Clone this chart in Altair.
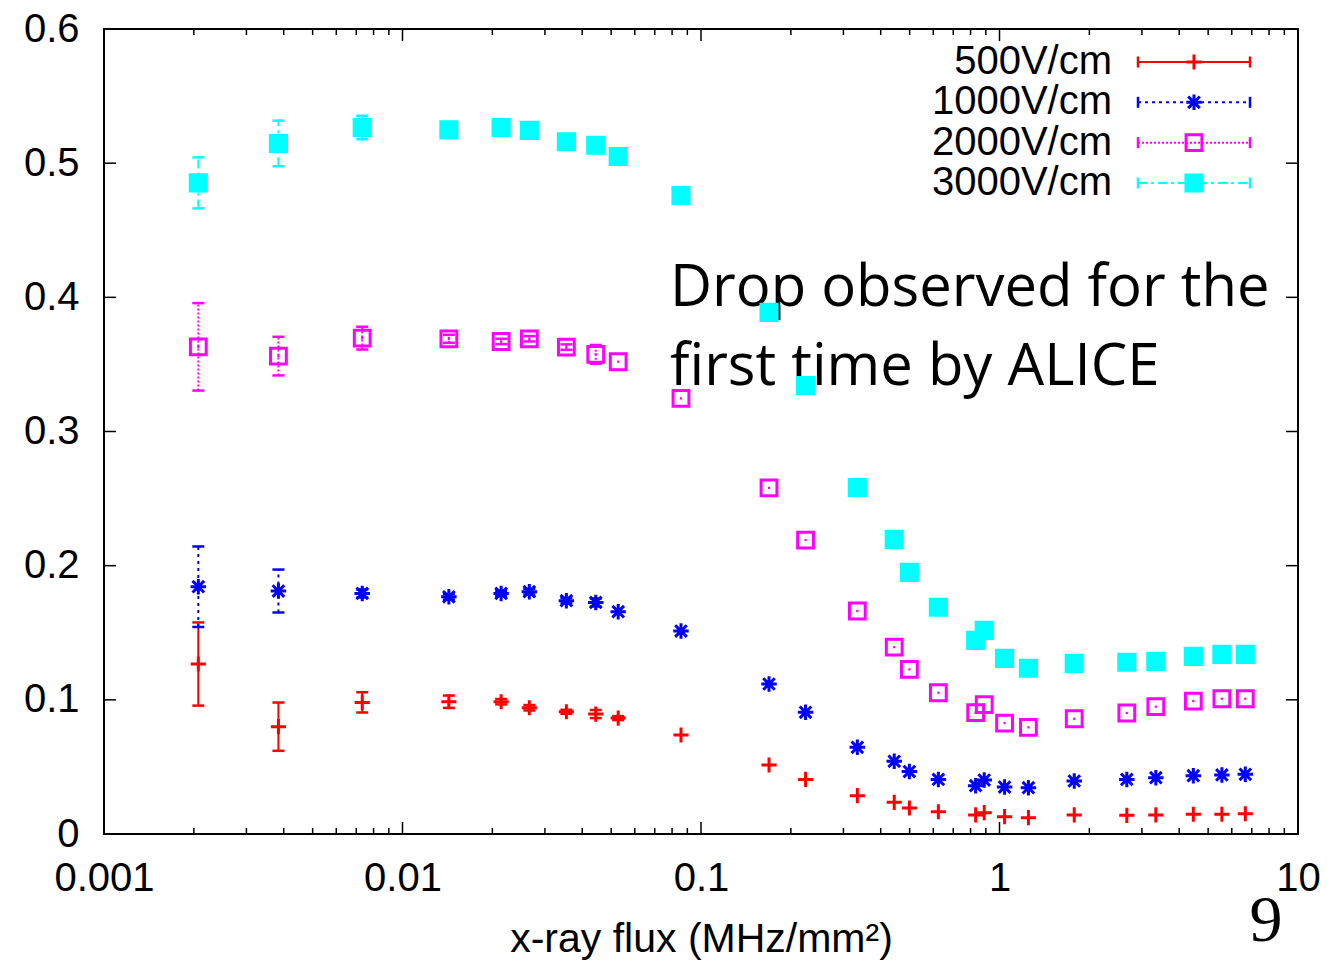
import altair as alt
import pandas as pd

# ---------------- data ----------------
flux = [0.00207, 0.00384, 0.00733, 0.0143, 0.0214, 0.0266, 0.0354, 0.0444, 0.0528,
        0.0857, 0.169, 0.224, 0.334, 0.444, 0.499, 0.624, 0.832, 0.889, 1.04, 1.25,
        1.78, 2.67, 3.34, 4.46, 5.56, 6.66]

series_names = ["500V/cm", "1000V/cm", "2000V/cm", "3000V/cm"]
legend_rows = [0, 1, 2, 3]

gain_500 = [0.1267, 0.0800, 0.0981, 0.0986, 0.0986, 0.0941, 0.0911, 0.0894, 0.0864,
            0.0738, 0.0514, 0.0407, 0.0286, 0.0236, 0.0194, 0.0166, 0.0142, 0.0159,
            0.0129, 0.0122, 0.0142, 0.0139, 0.0142, 0.0147, 0.0147, 0.0151]
err_500 = [0.031, 0.018, 0.0075, 0.0046, 0.002, 0.002, 0.0015, 0.003, 0.0015,
           0, 0, 0, 0, 0, 0, 0, 0, 0, 0, 0, 0, 0, 0, 0, 0, 0]

gain_1000 = [0.1843, 0.1811, 0.1793, 0.1768, 0.1793, 0.1806, 0.1739, 0.1726, 0.1657,
             0.1513, 0.1118, 0.0907, 0.0646, 0.0542, 0.0465, 0.0407, 0.0360, 0.0402,
             0.0350, 0.0345, 0.0395, 0.0407, 0.0420, 0.0435, 0.0440, 0.0445]
err_1000 = [0.030, 0.016, 0.003, 0.002, 0.002, 0.002, 0.002, 0.003, 0,
            0, 0, 0, 0, 0, 0, 0, 0, 0, 0, 0, 0, 0, 0, 0, 0, 0]

gain_2000 = [0.3631, 0.3562, 0.3696, 0.3691, 0.3671, 0.3691, 0.3629, 0.3575, 0.3520,
             0.3247, 0.2580, 0.2191, 0.1662, 0.1393, 0.1227, 0.1053, 0.0904, 0.0964,
             0.0827, 0.0795, 0.0859, 0.0902, 0.0949, 0.0991, 0.1008, 0.1008]
err_2000 = [0.0326, 0.0144, 0.0084, 0.003, 0.002, 0.002, 0.002, 0.007, 0,
            0, 0, 0, 0, 0, 0, 0, 0, 0, 0, 0, 0, 0, 0, 0, 0, 0]

gain_3000 = [0.4853, 0.5147, 0.5266, 0.5248, 0.5266, 0.5244, 0.5160, 0.5134, 0.5050,
             0.4759, 0.3888, 0.3343, 0.2583, 0.2196, 0.1950, 0.1690, 0.1443, 0.1518,
             0.1309, 0.1235, 0.1272, 0.1280, 0.1287, 0.1324, 0.1339, 0.1339]
err_3000 = [0.019, 0.017, 0.0087, 0, 0, 0, 0, 0.002, 0,
            0, 0, 0, 0, 0, 0, 0, 0, 0, 0, 0, 0, 0, 0, 0, 0, 0]

x_major = [0.001, 0.01, 0.1, 1, 10]
x_minor = [0.002, 0.003, 0.004, 0.005, 0.006, 0.007, 0.008, 0.009,
           0.02, 0.03, 0.04, 0.05, 0.06, 0.07, 0.08, 0.09,
           0.2, 0.3, 0.4, 0.5, 0.6, 0.7, 0.8, 0.9,
           2, 3, 4, 5, 6, 7, 8, 9]
y_major = [0, 0.1, 0.2, 0.3, 0.4, 0.5, 0.6]

x_title = "x-ray flux (MHz/mm²)"
annotation_lines = ["Drop observed for the", "first time by ALICE"]
page_number = "9"

# ---------------- styles ----------------
colors = ["#ff0000", "#0000ff", "#ff00ff", "#00ffff"]
dashes = [[1, 0], [3, 4], [2, 2], [9, 4, 3, 4]]
shapes = ["M-1,0L1,0M0,-1L0,1",
          "M-1,0L1,0M0,-1L0,1M-0.75,-0.75L0.75,0.75M-0.75,0.75L0.75,-0.75",
          "M-1,-1L1,-1L1,1L-1,1Z",
          "square"]
fills = ["transparent", "transparent", "transparent", "#00ffff"]
sizes = [230, 260, 250, 150]

W, H = 1194, 805
FONT = "Liberation Sans"
FS = 40

rows = []
for name, vals, errs in zip(series_names,
                            [gain_500, gain_1000, gain_2000, gain_3000],
                            [err_500, err_1000, err_2000, err_3000]):
    for f, v, e in zip(flux, vals, errs):
        rows.append({"series": name, "flux": f, "value": v,
                     "lo": v - e, "hi": v + e, "err": e})
df = pd.DataFrame(rows)
err_df = df[df["err"] > 0]
legend_df = pd.DataFrame({"series": series_names, "row": legend_rows})

xs = alt.Scale(type="log", domain=[0.001, 10], nice=False)
ys = alt.Scale(domain=[0, 0.6], nice=False, zero=False)

xaxis = alt.Axis(values=x_major, format="~g", title=x_title, grid=False,
                 ticks=False, tickSize=0, domain=False, labelFlush=False,
                 labelOverlap=False, labelFont=FONT, labelFontSize=FS,
                 labelColor="black", labelPadding=24, titleFont=FONT,
                 titleFontSize=41, titleFontWeight="normal", titleColor="black",
                 titlePadding=21)
yaxis = alt.Axis(values=y_major, format="~g", title="", grid=False,
                 ticks=False, tickSize=0, domain=False, labelFlush=False,
                 labelOverlap=False, labelFont=FONT, labelFontSize=FS,
                 labelColor="black", labelPadding=25)

X = alt.X("flux:Q", scale=xs, axis=xaxis)
Y = alt.Y("value:Q", scale=ys, axis=yaxis)
C = alt.Color("series:N", scale=alt.Scale(domain=series_names, range=colors), legend=None)
D = alt.StrokeDash("series:N", scale=alt.Scale(domain=series_names, range=dashes), legend=None)
S = alt.Shape("series:N", scale=alt.Scale(domain=series_names, range=shapes), legend=None)
F = alt.Fill("series:N", scale=alt.Scale(domain=series_names, range=fills), legend=None)
SZ = alt.Size("series:N", scale=alt.Scale(domain=series_names, range=sizes), legend=None)

dummy = pd.DataFrame({"k": [0]})

annotation = alt.Chart(dummy).mark_text(
    text=annotation_lines, align="left", baseline="alphabetic", font="Open Sans",
    fontSize=58, lineHeight=79, color="black"
).encode(x=alt.value(566), y=alt.value(277))

page = alt.Chart(dummy).mark_text(
    text=page_number, align="center", baseline="alphabetic",
    font="Liberation Serif", fontSize=66, color="black"
).encode(x=alt.value(1162), y=alt.value(912))

xmaj = pd.DataFrame({"flux": x_major})
xmin = pd.DataFrame({"flux": x_minor})
ymaj = pd.DataFrame({"value": y_major})

tick_style = dict(color="black", strokeWidth=1.5)
t_bot_maj = alt.Chart(xmaj).mark_rule(**tick_style).encode(x=X, y=alt.value(H), y2=alt.value(H - 12))
t_top_maj = alt.Chart(xmaj).mark_rule(**tick_style).encode(x=X, y=alt.value(0), y2=alt.value(12))
t_bot_min = alt.Chart(xmin).mark_rule(**tick_style).encode(x=X, y=alt.value(H), y2=alt.value(H - 6))
t_top_min = alt.Chart(xmin).mark_rule(**tick_style).encode(x=X, y=alt.value(0), y2=alt.value(6))
t_left = alt.Chart(ymaj).mark_rule(**tick_style).encode(y=Y, x=alt.value(0), x2=alt.value(12))
t_right = alt.Chart(ymaj).mark_rule(**tick_style).encode(y=Y, x=alt.value(W), x2=alt.value(W - 12))

err_rules = alt.Chart(err_df).mark_rule(strokeWidth=2).encode(
    x=X, y=alt.Y("lo:Q", scale=ys, axis=yaxis), y2="hi:Q", color=C, strokeDash=D)
cap_lo = alt.Chart(err_df).mark_tick(orient="horizontal", size=12, thickness=2.5, opacity=1).encode(
    x=X, y=alt.Y("lo:Q", scale=ys, axis=yaxis), color=C)
cap_hi = alt.Chart(err_df).mark_tick(orient="horizontal", size=12, thickness=2.5, opacity=1).encode(
    x=X, y=alt.Y("hi:Q", scale=ys, axis=yaxis), color=C)

points = alt.Chart(df).mark_point(opacity=1, strokeWidth=3).encode(
    x=X, y=Y, shape=S, color=C, fill=F, size=SZ)

mag_dots = alt.Chart(df).transform_filter(
    alt.datum.series == "2000V/cm"
).mark_point(shape="square", size=5, filled=True, opacity=1, color="#ff00ff").encode(x=X, y=Y)

main = alt.layer(annotation, page, t_bot_maj, t_top_maj, t_bot_min, t_top_min,
                 t_left, t_right, err_rules, cap_lo, cap_hi, points, mag_dots)

LY = alt.Y("row:Q", scale=alt.Scale(domain=[0, 3], range=[33, 154], nice=False, zero=False), axis=None)

leg_text = alt.Chart(legend_df).mark_text(
    align="right", baseline="middle", font=FONT, fontSize=FS, color="black"
).encode(x=alt.value(1008), y=LY, text="series:N")
leg_line = alt.Chart(legend_df).mark_rule(strokeWidth=2).encode(
    x=alt.value(1034), x2=alt.value(1146), y=LY, color=C, strokeDash=D)
leg_cap_l = alt.Chart(legend_df).mark_tick(orient="vertical", size=11, thickness=2.5, opacity=1).encode(
    x=alt.value(1034), y=LY, color=C)
leg_cap_r = alt.Chart(legend_df).mark_tick(orient="vertical", size=11, thickness=2.5, opacity=1).encode(
    x=alt.value(1146), y=LY, color=C)
leg_mark = alt.Chart(legend_df).mark_point(opacity=1, strokeWidth=3).encode(
    x=alt.value(1090), y=LY, shape=S, color=C, fill=F, size=SZ)

legend = alt.layer(leg_line, leg_cap_l, leg_cap_r, leg_mark, leg_text)

chart = alt.layer(main, legend).resolve_scale(y="independent").properties(
    width=W, height=H,
    padding={"left": 104, "top": 29, "right": 29, "bottom": 127},
    autosize=alt.AutoSizeParams(type="none"),
    background="white",
).configure_view(stroke="black", strokeWidth=2)

chart.save("out.html", embed_options={"renderer": "svg", "actions": False})
